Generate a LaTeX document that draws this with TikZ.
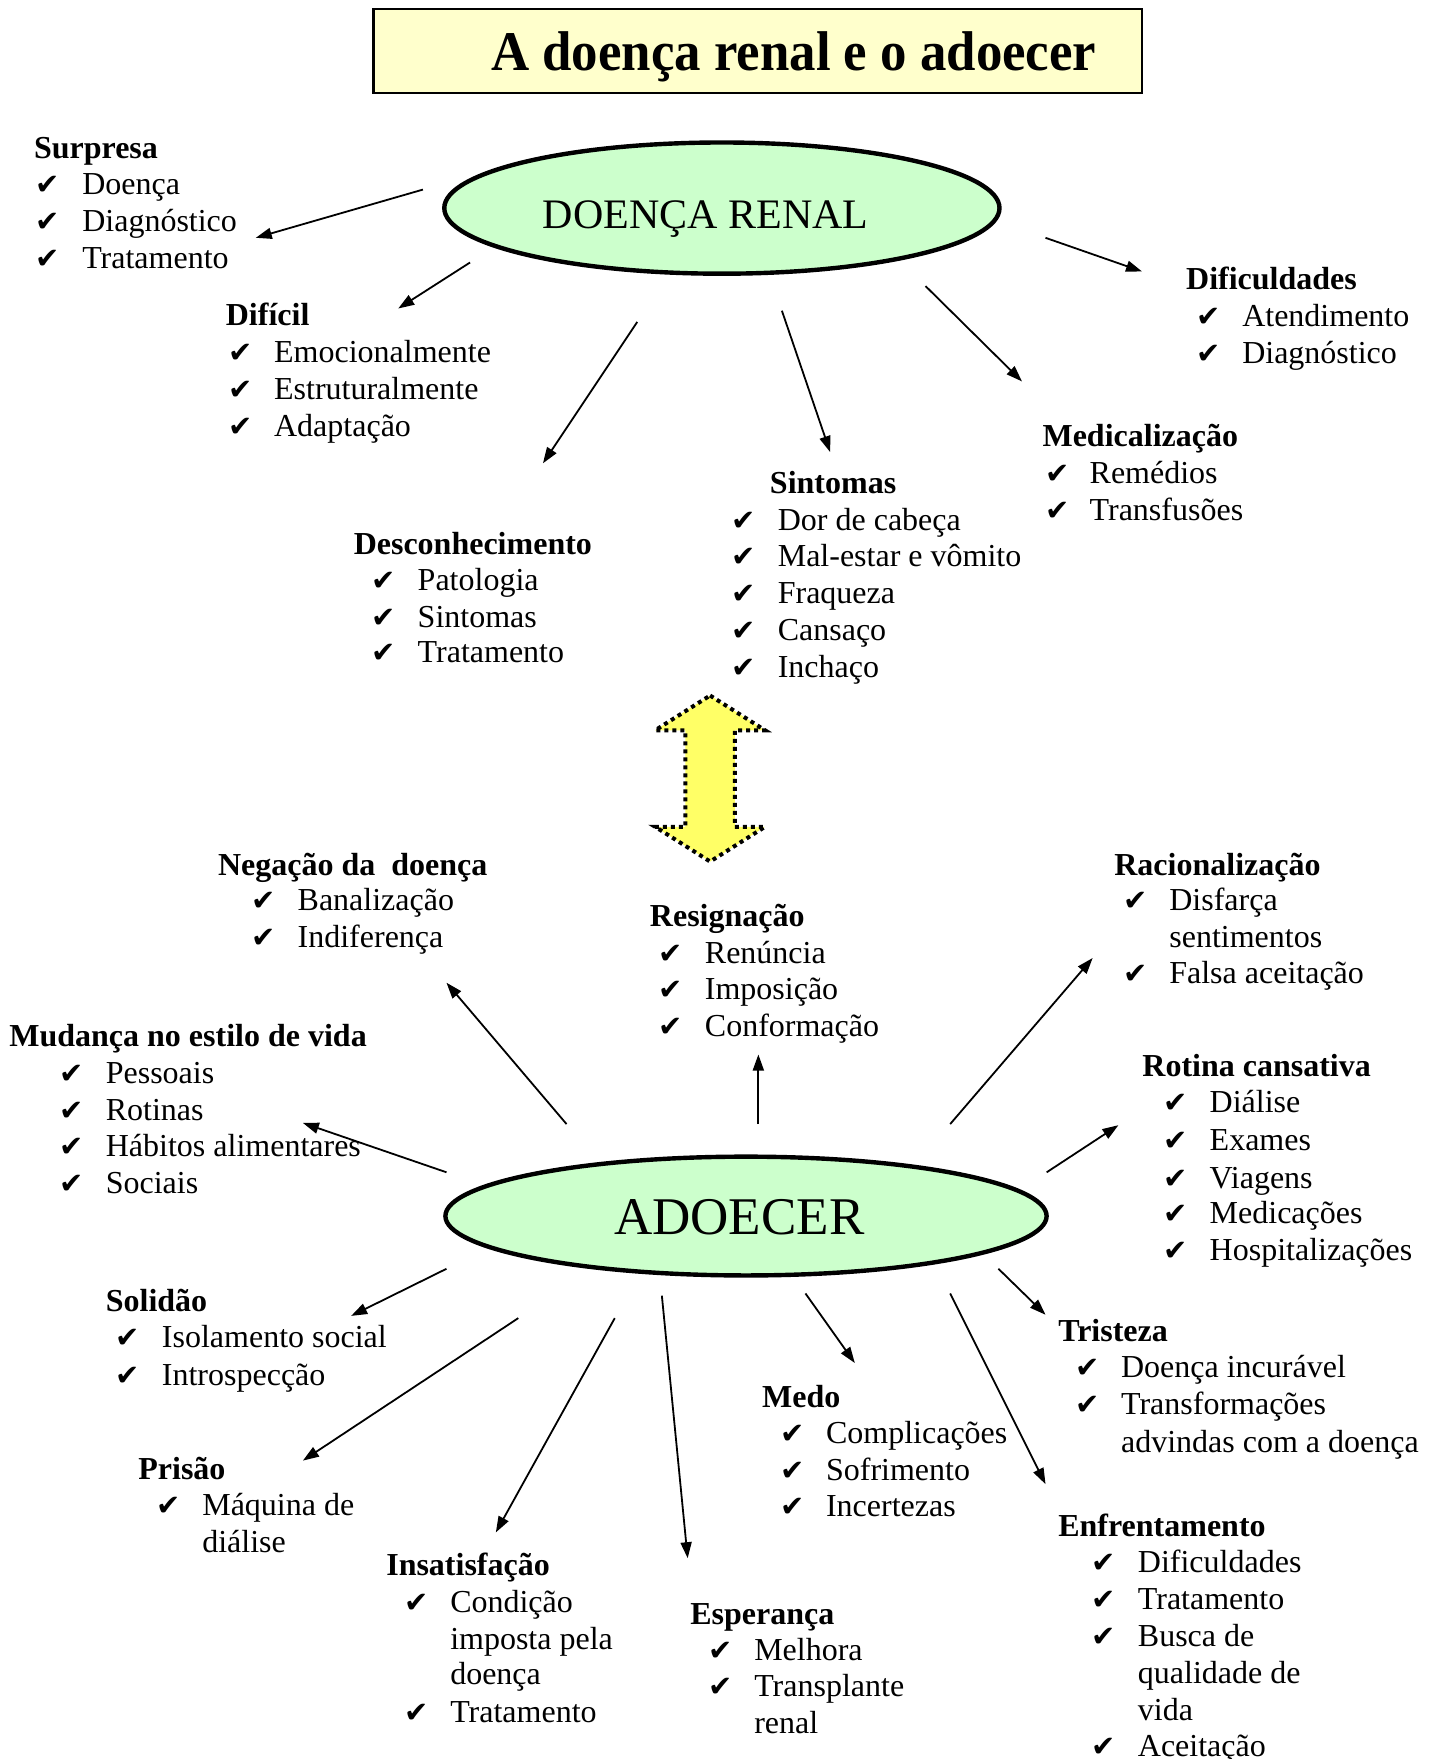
\documentclass[tikz,border=0pt]{standalone}
\usepackage{fontspec}
\setmainfont{Liberation Serif}
\newfontfamily\ckfont{DejaVu Sans}
\usetikzlibrary{shapes.geometric,arrows.meta}
\definecolor{titlefill}{HTML}{FFFFCC}
\definecolor{ellfill}{HTML}{CCFFCC}
\definecolor{arrfill}{HTML}{FFFF66}
\newcommand\hd[4]{\node[hdr] (#1) at (#2,#3+2) {#4};}
\newcommand\itm[5]{\node[ckm] (#1c) at (#2,#4+2) {✔}; \node[txt] (#1) at (#3,#4+2) {#5};}
\newcommand\cnt[4]{\node[txt] (#1) at (#2,#3+2) {#4};}
\begin{document}
\begin{tikzpicture}[x=0.5609pt,y=-0.5609pt,
  txt/.style={inner sep=0pt, anchor=base west, font=\fontsize{16}{18.5}\selectfont},
  hdr/.style={txt, font=\fontsize{16}{18.5}\selectfont\bfseries},
  ckm/.style={inner sep=0pt, anchor=base west, font=\ckfont\fontsize{14.5}{16}\selectfont},
  ell/.style={ellipse, draw, line width=2.2pt, fill=ellfill, inner sep=0pt},
  conn/.style={line width=0.9pt, -{Triangle[length=8pt,width=5.5pt]}}
]
\useasboundingbox (0,0) rectangle (1281,1568);
% title
\node[draw, line width=1.1pt, fill=titlefill, minimum width=384.2pt, minimum height=42.1pt, inner sep=0pt] (tb) at (675.5,45.5) {};
\node[inner sep=0pt, anchor=base] (tt) at (707.5,63) {\fontsize{28}{30}\selectfont\bfseries\scalebox{0.944}[1]{A doença renal e o adoecer}};
% ellipses
\node[ell, minimum width=277.6pt, minimum height=65.6pt] (dr) at (643.5,185.5) {};
\node[inner sep=0pt, anchor=base] (drt) at (629,204) {\fontsize{21}{24}\selectfont DOENÇA RENAL};
\node[ell, minimum width=300.6pt, minimum height=59.4pt] (ad) at (665,1084) {};
\node[inner sep=0pt, anchor=base] (adt) at (659,1100) {\fontsize{26.5}{30}\selectfont ADOECER};
% double arrow
\draw[fill=arrfill, line width=2pt, dash pattern=on 2pt off 2pt]
  (633,620) -- (682,651) -- (655,651) -- (655,737) -- (682,737) -- (633,768)
  -- (584,737) -- (611,737) -- (611,651) -- (584,651) -- cycle;
% groups
\hd{surp}{30}{139}{Surpresa}
\itm{surp1}{31}{73}{171}{Doença}
\itm{surp2}{31}{73}{204}{Diagnóstico}
\itm{surp3}{31}{73}{237}{Tratamento}
\hd{dif}{201}{288}{Difícil}
\itm{dif1}{203}{244}{321}{Emocionalmente}
\itm{dif2}{203}{244}{354}{Estruturalmente}
\itm{dif3}{203}{244}{387}{Adaptação}
\hd{desc}{315}{492}{Desconhecimento}
\itm{desc1}{331}{372}{524}{Patologia}
\itm{desc2}{331}{372}{557}{Sintomas}
\itm{desc3}{331}{372}{589}{Tratamento}
\hd{sint}{686}{438}{Sintomas}
\itm{sint1}{652}{693}{471}{Dor de cabeça}
\itm{sint2}{652}{693}{503}{Mal-estar e vômito}
\itm{sint3}{652}{693}{536}{Fraqueza}
\itm{sint4}{652}{693}{569}{Cansaço}
\itm{sint5}{652}{693}{602}{Inchaço}
\hd{difc}{1057}{256}{Dificuldades}
\itm{difc1}{1066}{1107}{289}{Atendimento}
\itm{difc2}{1066}{1107}{322}{Diagnóstico}
\hd{med}{929}{396}{Medicalização}
\itm{med1}{932}{971}{429}{Remédios}
\itm{med2}{932}{971}{462}{Transfusões}
\hd{neg}{194}{778}{Negação da\ \ doença}
\itm{neg1}{224}{265}{810}{Banalização}
\itm{neg2}{224}{265}{843}{Indiferença}
\hd{res}{579}{824}{Resignação}
\itm{res1}{587}{628}{857}{Renúncia}
\itm{res2}{587}{628}{889}{Imposição}
\itm{res3}{587}{628}{922}{Conformação}
\hd{rac}{993}{778}{Racionalização}
\itm{rac1}{1001}{1042}{810}{Disfarça}
\cnt{rac1b}{1042}{843}{sentimentos}
\itm{rac2}{1001}{1042}{875}{Falsa aceitação}
\hd{mud}{8}{931}{Mudança no estilo de vida}
\itm{mud1}{53}{94}{964}{Pessoais}
\itm{mud2}{53}{94}{997}{Rotinas}
\itm{mud3}{53}{94}{1029}{Hábitos alimentares}
\itm{mud4}{53}{94}{1062}{Sociais}
\hd{rot}{1018}{958}{Rotina cansativa}
\itm{rot1}{1037}{1078}{990}{Diálise}
\itm{rot2}{1037}{1078}{1024}{Exames}
\itm{rot3}{1037}{1078}{1057}{Viagens}
\itm{rot4}{1037}{1078}{1089}{Medicações}
\itm{rot5}{1037}{1078}{1122}{Hospitalizações}
\hd{sol}{94}{1167}{Solidão}
\itm{sol1}{103}{144}{1199}{Isolamento social}
\itm{sol2}{103}{144}{1233}{Introspecção}
\hd{tri}{943}{1194}{Tristeza}
\itm{tri1}{958}{999}{1226}{Doença incurável}
\itm{tri2}{958}{999}{1259}{Transformações}
\cnt{tri2b}{999}{1293}{advindas com a doença}
\hd{pri}{123}{1317}{Prisão}
\itm{pri1}{139}{180}{1349}{Máquina de}
\cnt{pri1b}{180}{1382}{diálise}
\hd{medo}{679}{1253}{Medo}
\itm{medo1}{695}{736}{1285}{Complicações}
\itm{medo2}{695}{736}{1318}{Sofrimento}
\itm{medo3}{695}{736}{1350}{Incertezas}
\hd{ins}{344}{1402}{Insatisfação}
\itm{ins1}{360}{401}{1435}{Condição}
\cnt{ins1b}{401}{1468}{imposta pela}
\cnt{ins1c}{401}{1500}{doença}
\itm{ins2}{360}{401}{1533}{Tratamento}
\hd{esp}{615}{1446}{Esperança}
\itm{esp1}{631}{672}{1478}{Melhora}
\itm{esp2}{631}{672}{1510}{Transplante}
\cnt{esp2b}{672}{1543}{renal}
\hd{enf}{943}{1368}{Enfrentamento}
\itm{enf1}{973}{1014}{1400}{Dificuldades}
\itm{enf2}{973}{1014}{1433}{Tratamento}
\itm{enf3}{973}{1014}{1466}{Busca de}
\cnt{enf3b}{1014}{1499}{qualidade de}
\cnt{enf3c}{1014}{1532}{vida}
\itm{enf4}{973}{1014}{1564}{Aceitação}
% connector endpoints
\coordinate (a1s) at (377,169); \coordinate (a1e) at (228,212);
\coordinate (a2s) at (419,234); \coordinate (a2e) at (355,275);
\coordinate (a3s) at (568,287); \coordinate (a3e) at (484,413);
\coordinate (a4s) at (697,277); \coordinate (a4e) at (740,403);
\coordinate (a5s) at (825,255); \coordinate (a5e) at (911,340);
\coordinate (a6s) at (932,212); \coordinate (a6e) at (1018,242);
\coordinate (b1s) at (505,1002); \coordinate (b1e) at (398,876);
\coordinate (b2s) at (676,1002); \coordinate (b2e) at (676,940);
\coordinate (b3s) at (847,1002); \coordinate (b3e) at (974,854);
\coordinate (b4s) at (398,1045); \coordinate (b4e) at (270,1001);
\coordinate (b5s) at (933,1045); \coordinate (b5e) at (997,1003);
\coordinate (b6s) at (398,1131); \coordinate (b6e) at (313,1173);
\coordinate (b7s) at (462,1175); \coordinate (b7e) at (270,1302);
\coordinate (b8s) at (548,1175); \coordinate (b8e) at (442,1366);
\coordinate (b9s) at (590,1155); \coordinate (b9e) at (613,1389);
\coordinate (b10s) at (718,1153); \coordinate (b10e) at (762,1215);
\coordinate (b11s) at (847,1153); \coordinate (b11e) at (932,1323);
\coordinate (b12s) at (890,1131); \coordinate (b12e) at (932,1172);
\foreach \n in {a1,a2,a3,a4,a5,a6,b1,b2,b3,b4,b5,b6,b7,b8,b9,b10,b11,b12}
  \draw[conn] (\n s) -- (\n e);
\end{tikzpicture}
\end{document}
